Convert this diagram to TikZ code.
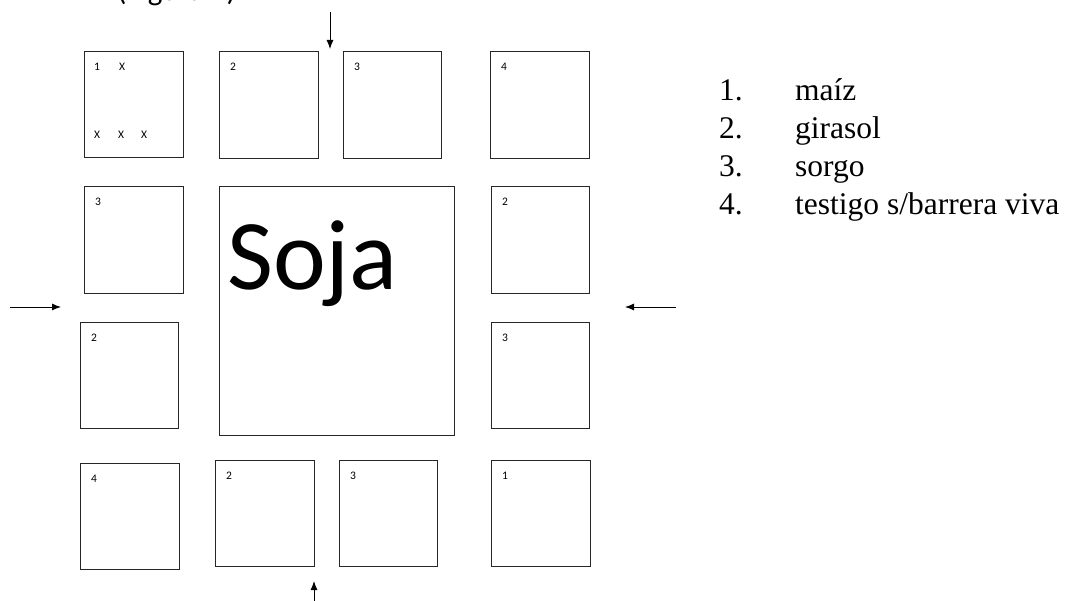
\documentclass[tikz,border=0pt]{standalone}
\usepackage{fontspec}
\setmainfont{Liberation Serif}
\newfontfamily\calfont{Carlito}
\usetikzlibrary{arrows.meta}
\begin{document}
\begin{tikzpicture}[x=1pt,y=-1pt,
  box/.style={draw=black!85, line width=0.9pt, inner sep=0pt, anchor=north west},
  lab/.style={inner sep=0pt, anchor=north west, font=\calfont\fontsize{11.5}{13}\selectfont},
  leg/.style={inner sep=0pt, anchor=base west, font=\fontsize{31.5}{36}\selectfont},
  arr/.style={line width=0.9pt, -{Latex[length=9pt,width=7pt]}}]
\useasboundingbox (0,0) rectangle (1066,601);
% partly cut heading
\node[inner sep=0pt, anchor=base west, font=\calfont\fontsize{31}{36}\selectfont] (head) at (117,0.5) {(Figura 2)};
% top row
\node[box, minimum width=99pt, minimum height=106pt] (b11) at (84,51) {};
\node[box, minimum width=99pt, minimum height=107pt] (b12) at (219,51) {};
\node[box, minimum width=98pt, minimum height=107pt] (b13) at (343,51) {};
\node[box, minimum width=99pt, minimum height=107pt] (b14) at (490,51) {};
% sides
\node[box, minimum width=99pt, minimum height=107pt] (bl3) at (84,186) {};
\node[box, minimum width=98pt, minimum height=106pt] (bl2) at (80,322) {};
\node[box, minimum width=98pt, minimum height=107pt] (br2) at (491,186) {};
\node[box, minimum width=98pt, minimum height=106pt] (br3) at (491,322) {};
% center
\node[box, minimum width=235pt, minimum height=249pt] (soja) at (219,186) {};
\node[inner sep=0pt, anchor=base west, font=\calfont\fontsize{100}{115}\selectfont] (sojat) at (227,290) {Soja};
% bottom row
\node[box, minimum width=99pt, minimum height=106pt] (bb4) at (80,463) {};
\node[box, minimum width=99pt, minimum height=106pt] (bb2) at (215,460) {};
\node[box, minimum width=98pt, minimum height=106pt] (bb3) at (339,460) {};
\node[box, minimum width=99pt, minimum height=106pt] (bb1) at (491,460) {};
% labels
\node[lab] (l11) at ([shift={(10,12)}]b11.north west) {1};
\node[lab] (x1) at ([shift={(35,12)}]b11.north west) {X};
\node[lab] (x2) at ([shift={(10,80)}]b11.north west) {X};
\node[lab] (x3) at ([shift={(34,80)}]b11.north west) {X};
\node[lab] (x4) at ([shift={(57,80)}]b11.north west) {X};
\node[lab] (l12) at ([shift={(11,12)}]b12.north west) {2};
\node[lab] (l13) at ([shift={(11,12)}]b13.north west) {3};
\node[lab] (l14) at ([shift={(11,12)}]b14.north west) {4};
\node[lab] (ll3) at ([shift={(11,12)}]bl3.north west) {3};
\node[lab] (ll2) at ([shift={(11,12)}]bl2.north west) {2};
\node[lab] (lr2) at ([shift={(11,12)}]br2.north west) {2};
\node[lab] (lr3) at ([shift={(11,12)}]br3.north west) {3};
\node[lab] (lb4) at ([shift={(11,12)}]bb4.north west) {4};
\node[lab] (lb2) at ([shift={(11,12)}]bb2.north west) {2};
\node[lab] (lb3) at ([shift={(11,12)}]bb3.north west) {3};
\node[lab] (lb1) at ([shift={(11,12)}]bb1.north west) {1};
% arrows
\coordinate (ta) at (330,12);
\coordinate (tb) at (330,49);
\coordinate (la) at (10,307);
\coordinate (lb) at (61,307);
\coordinate (ra) at (676,307);
\coordinate (rb) at (625,307);
\coordinate (ba) at (314,601);
\coordinate (bb) at (314,581);
\draw[arr] (ta) -- (tb);
\draw[arr] (la) -- (lb);
\draw[arr] (ra) -- (rb);
\draw[arr] (ba) -- (bb);
% legend
\node[leg] (n1) at (719,101) {1.};
\node[leg] (t1) at (795,101) {maíz};
\node[leg] (n2) at (719,139) {2.};
\node[leg] (t2) at (795,139) {girasol};
\node[leg] (n3) at (719,177) {3.};
\node[leg] (t3) at (795,177) {sorgo};
\node[leg] (n4) at (719,215) {4.};
\node[leg] (t4) at (795,215) {testigo s/barrera viva};
\end{tikzpicture}
\end{document}
